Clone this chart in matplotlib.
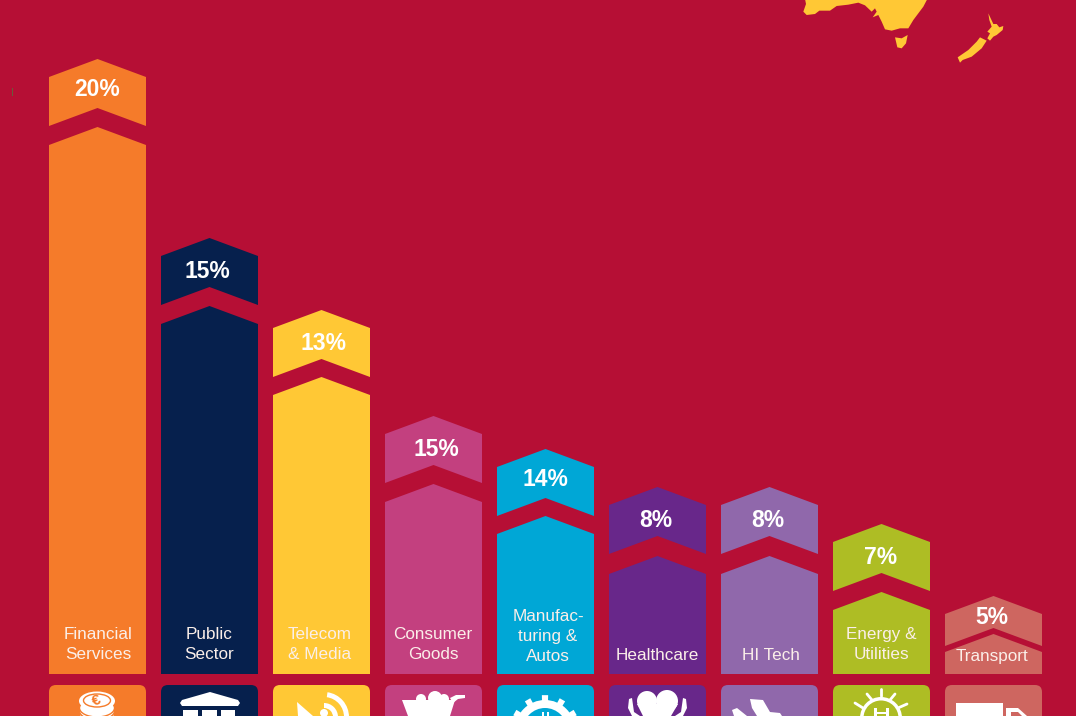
import numpy as np
import matplotlib
matplotlib.use("Agg")
import matplotlib.pyplot as plt
from matplotlib.patches import Polygon, FancyBboxPatch, Ellipse, Circle, Wedge, Rectangle

sectors = ["Financial\nServices", "Public\nSector", "Telecom\n& Media", "Consumer\nGoods",
           "Manufac-\nturing &\nAutos", "Healthcare", "HI Tech", "Energy &\nUtilities", "Transport"]
shares = [20, 15, 13, 15, 14, 8, 8, 7, 5]
body_height = [547, 368, 297, 190, 158, 118, 118, 82, 40]
cap_top = [615, 436, 364, 258, 225, 187, 187, 150, 78]
cap_notch = [566, 387, 315, 209, 176, 138, 138, 101, 46]
colors = ["#F57B2A", "#06204D", "#FFC835", "#C3407F", "#00A7D6", "#68278A", "#9068AB", "#AEBD24", "#CE6660"]
label_x = [98, 209, 320, 433, 548, 657, 771, 881, 992]
label_y = [644.5, 644.5, 644.5, 644.5, 636.5, 655, 655, 644.5, 656]
pct_x = [97, 207, 324, 436, 545, 656, 768, 881, 992]
pct_y = [89, 271, 343, 449, 479, 520.5, 520.5, 557, 617]

BG = "#B60F35"
BASE = 674
W = 97
SH = 18
plt.rcParams["font.family"] = ["Liberation Sans", "DejaVu Sans"]
fig = plt.figure(figsize=(10.76, 7.16), dpi=100, facecolor=BG)
ax = fig.add_axes([0, 0, 1, 1])
ax.set_xlim(0, 1076)
ax.set_ylim(BASE - 716, BASE)
ax.axis("off")


def Y(p):
    return BASE - p


def P(pts):
    return [(x, Y(y)) for x, y in pts]


for i, c in enumerate(colors):
    l = 49 + 112 * i
    m, r = l + W / 2, l + W
    h = body_height[i]
    ax.add_patch(Polygon([(l, 0), (l, h - SH), (m, h), (r, h - SH), (r, 0)], fc=c, ec="none"))
    t, n = cap_top[i], cap_notch[i]
    ax.add_patch(Polygon([(l, t - SH), (m, t), (r, t - SH), (r, n - SH), (m, n), (l, n - SH)], fc=c, ec="none"))
    ax.add_patch(FancyBboxPatch((l + 6, -100), W - 12, 100 + Y(685) - 6,
                                boxstyle="round,pad=6,rounding_size=7", fc=c, ec="none"))
    ax.text(pct_x[i], Y(pct_y[i]), f"{shares[i]}%", color="white", fontsize=16.5, fontweight="bold",
            ha="center", va="center")
    ax.text(label_x[i], Y(label_y[i]), sectors[i], color="#FBEFE9", fontsize=12.3, ha="center",
            va="center", linespacing=1.4)

WH = "white"


def poly(pts, fc=WH):
    ax.add_patch(Polygon(P(pts), fc=fc, ec="none"))


def ring(cx, cy, r, t1, t2, w, fc=WH):
    ax.add_patch(Wedge((cx, Y(cy)), r, t1, t2, width=w, fc=fc, ec="none"))


# coins
for yy in [714, 711, 708]:
    ax.add_patch(Ellipse((97, Y(yy)), 35, 18, fc=WH, ec=colors[0], lw=1))
ax.add_patch(Ellipse((97, Y(701)), 36, 19, fc=WH, ec="none"))
ax.add_patch(Ellipse((97, Y(700.5)), 27, 13, fc="none", ec=colors[0], lw=1))
ax.text(97, Y(700.5), "€", color=colors[0], fontsize=11, fontweight="bold", ha="center", va="center", rotation=20)
# temple
poly([(182, 700), (210, 692), (238, 700), (240, 703), (238, 706), (182, 706), (180, 703)])
for xx, ww in [(183, 15), (202, 15), (221, 14)]:
    ax.add_patch(Rectangle((xx, Y(730)), ww, 20, fc=WH, ec="none"))
# dish
poly([(297, 702), (313, 716), (298, 716)])
ax.add_patch(Circle((324, Y(713)), 4, fc=WH, ec="none"))
ring(324, 717, 25, 0, 82, 5)
ring(324, 717, 14, 0, 90, 5)
# cart
poly([(402, 700), (455, 700), (450, 716), (408, 716)])
for cx, cy, rr in [(421, 699, 5), (435, 698, 7), (444, 699, 5)]:
    ax.add_patch(Circle((cx, Y(cy)), rr, fc=WH, ec="none"))
poly([(450, 698), (456, 695), (465, 695), (465, 698), (458, 699), (453, 703)])
# gear
gx, gy = 545, 730
ring(gx, gy, 30, 0, 180, 8)
for a in np.deg2rad([60, 90, 120, 30, 150]):
    ax.add_patch(Polygon(P([(gx + 27 * np.cos(a - .11), gy - 27 * np.sin(a - .11)),
                            (gx + 35 * np.cos(a - .09), gy - 35 * np.sin(a - .09)),
                            (gx + 35 * np.cos(a + .09), gy - 35 * np.sin(a + .09)),
                            (gx + 27 * np.cos(a + .11), gy - 27 * np.sin(a + .11))]), fc=WH, ec="none"))
ax.add_patch(Rectangle((542, Y(716)), 1.5, 4, fc=WH, ec="none"))
ax.add_patch(Rectangle((547, Y(716)), 1.5, 4, fc=WH, ec="none"))
# heart and hands
ax.add_patch(Circle((647, Y(701)), 10, fc=WH, ec="none"))
ax.add_patch(Circle((667, Y(701)), 11, fc=WH, ec="none"))
poly([(637, 704), (678, 704), (671, 716), (643, 716)])
poly([(629, 699), (632, 698), (634, 712), (640, 716), (632, 716), (628, 708)])
poly([(683, 698), (686, 699), (687, 708), (683, 716), (675, 716), (681, 712)])
# plane
poly([(732, 710), (737, 708), (747, 716), (734, 716)])
poly([(750, 699), (763, 700), (770, 712), (780, 713), (782, 716), (757, 716), (752, 708)])
# sun
sx, sy = 881, 718
ring(sx, sy, 21, 0, 180, 3.5)
for x0, y0, x1, y1 in [(855, 703, 863, 708), (867, 694, 872, 700), (881, 689, 881, 696),
                       (895, 694, 890, 700), (907, 704, 898, 708)]:
    ax.plot([x0, x1], [Y(y0), Y(y1)], color=WH, lw=2, solid_capstyle="round")
ax.add_patch(Rectangle((874, Y(716)), 2.5, 8, fc=WH, ec="none"))
ax.add_patch(Rectangle((886, Y(716)), 2.5, 8, fc=WH, ec="none"))
ax.add_patch(Rectangle((874, Y(714)), 14, 2, fc=WH, ec="none"))
# truck
ax.add_patch(Rectangle((956, Y(716)), 47, 13, fc=WH, ec="none"))
poly([(1006, 708), (1018, 708), (1027, 716), (1006, 716)])
poly([(1011, 712), (1018, 712), (1022, 716), (1011, 716)], fc=colors[8])

# map (decoration)
MAP = "#FFC835"
aus = [(75, -3), (78, 12), (70, 35), (80, 45), (105, 42), (118, 32), (150, 32), (170, 18), (205, 14), (235, 8),
       (255, 16), (275, 35), (285, 25), (290, 35), (278, 52), (295, 45), (305, 65), (315, 88), (335, 92),
       (360, 85), (385, 85), (400, 60), (415, 40), (430, 20), (442, -3)]
tas = [(345, 112), (365, 115), (383, 105), (378, 130), (365, 145), (352, 142)]
nzn = [(625, 40), (632, 55), (640, 72), (650, 72), (658, 82), (670, 78), (668, 90), (650, 105), (640, 110),
       (630, 122), (622, 115), (630, 100), (622, 95), (635, 80), (628, 60)]
nzs = [(600, 112), (620, 122), (605, 145), (575, 170), (548, 180), (540, 188), (533, 172), (565, 150), (590, 125)]
for shape in [aus, tas, nzn, nzs]:
    poly([(780 + x / 3, y / 3) for x, y in shape], fc=MAP)
ax.add_patch(Rectangle((12, Y(96)), 1, 8, fc="#6B5A3A", ec="none"))

fig.savefig("out.png", dpi=100, facecolor=BG)
